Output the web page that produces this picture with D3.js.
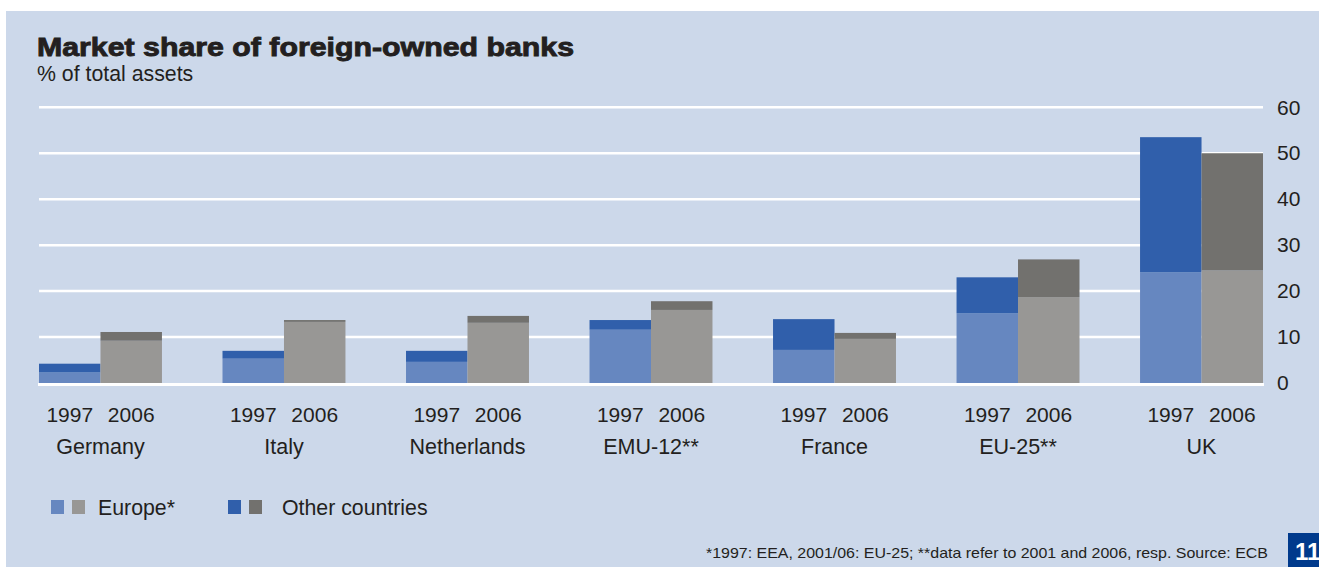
<!DOCTYPE html>
<html>
<head>
<meta charset="utf-8">
<script src="https://cdn.jsdelivr.net/npm/d3@7"></script>
<style>
  html, body { margin: 0; padding: 0; background: #ffffff; }
  svg { display: block; }
  text { font-family: "Liberation Sans", Arial, Helvetica, sans-serif; fill: #231f20; }
</style>
</head>
<body>
<svg id="chart" width="1319" height="567"></svg>
<script>
// Market share of foreign-owned banks, % of total assets
const countries = ["Germany", "Italy", "Netherlands", "EMU-12**", "France", "EU-25**", "UK"];
const years = ["1997", "2006"];
const europe1997 = [2.3, 5.3, 4.6, 11.6, 7.2, 15.2, 24.1];
const other1997  = [1.9, 1.7, 2.4, 2.1, 6.7, 7.8, 29.4];
const europe2006 = [9.2, 13.3, 13.1, 15.9, 9.6, 18.7, 24.5];
const other2006  = [1.9, 0.4, 1.5, 1.9, 1.3, 8.2, 25.5];
const yTicks = [0, 10, 20, 30, 40, 50, 60];
const legendLabels = ["Europe*", "Other countries"];

const colors = {
  "1997": { europe: "#6687c0", other: "#305fab" },
  "2006": { europe: "#989795", other: "#72716e" }
};

const svg = d3.select("#chart");

// background panel
svg.append("rect")
  .attr("x", 6).attr("y", 11)
  .attr("width", 1313).attr("height", 556)
  .attr("fill", "#ccd8ea");

// title block
svg.append("text")
  .attr("x", 37).attr("y", 56)
  .attr("font-size", 26).attr("font-weight", "bold")
  .attr("stroke", "#231f20").attr("stroke-width", 0.9)
  .attr("textLength", 537).attr("lengthAdjust", "spacingAndGlyphs")
  .text("Market share of foreign-owned banks");

svg.append("text")
  .attr("x", 37).attr("y", 81)
  .attr("font-size", 21.3)
  .text("% of total assets");

// scales
const x0 = d3.scaleBand().domain(countries).range([39, 1263]).paddingInner(0.33).paddingOuter(0);
const x1 = d3.scaleBand().domain(years).range([0, x0.bandwidth()]).padding(0);
const y = d3.scaleLinear().domain([0, 60]).range([383, 107.3]);

// gridlines
svg.append("g").selectAll("line")
  .data(yTicks.filter(d => d > 0))
  .join("line")
  .attr("x1", 39).attr("x2", 1263)
  .attr("y1", d => y(d)).attr("y2", d => y(d))
  .attr("stroke", "#ffffff").attr("stroke-width", 2.5);

// right-hand value axis
const yAxis = d3.axisRight(y).tickValues(yTicks).tickSize(0).tickPadding(0);
const gy = svg.append("g").attr("transform", "translate(1277,0)").call(yAxis);
gy.select(".domain").remove();
gy.selectAll("text")
  .attr("font-size", 21)
  .attr("font-family", "Liberation Sans, Arial, sans-serif")
  .attr("fill", "#231f20");

// stacked bars per year
const seriesByYear = {
  "1997": { europe: europe1997, other: other1997 },
  "2006": { europe: europe2006, other: other2006 }
};
const stack = d3.stack().keys(["europe", "other"]);

years.forEach(yr => {
  const rows = countries.map((c, i) => ({
    country: c,
    europe: seriesByYear[yr].europe[i],
    other: seriesByYear[yr].other[i]
  }));
  const layers = stack(rows);
  svg.append("g").selectAll("g")
    .data(layers)
    .join("g")
    .attr("fill", d => colors[yr][d.key])
    .selectAll("rect")
    .data(d => d)
    .join("rect")
    .attr("x", d => x0(d.data.country) + x1(yr))
    .attr("width", x1.bandwidth())
    .attr("y", d => y(d[1]))
    .attr("height", d => y(d[0]) - y(d[1]));
});

// zero line
svg.append("line")
  .attr("x1", 38).attr("x2", 1264)
  .attr("y1", 384.5).attr("y2", 384.5)
  .attr("stroke", "#ffffff").attr("stroke-width", 3);

// category labels
const labels = svg.append("g");
countries.forEach(c => {
  years.forEach(yr => {
    labels.append("text")
      .attr("x", x0(c) + x1(yr) + x1.bandwidth() / 2)
      .attr("y", 422)
      .attr("text-anchor", "middle")
      .attr("font-size", 21)
      .text(yr);
  });
  labels.append("text")
    .attr("x", x0(c) + x0.bandwidth() / 2)
    .attr("y", 454)
    .attr("text-anchor", "middle")
    .attr("font-size", 21.5)
    .text(c);
});

// legend
const legendItems = [
  { label: legendLabels[0], sw: [colors["1997"].europe, colors["2006"].europe], x: 51, tx: 98 },
  { label: legendLabels[1], sw: [colors["1997"].other, colors["2006"].other], x: 228, tx: 282 }
];
const legend = svg.append("g");
legendItems.forEach(item => {
  item.sw.forEach((col, k) => {
    legend.append("rect")
      .attr("x", item.x + k * 21).attr("y", 500)
      .attr("width", 13).attr("height", 14)
      .attr("fill", col);
  });
  legend.append("text")
    .attr("x", item.tx).attr("y", 515)
    .attr("font-size", 21.3)
    .text(item.label);
});

// footnote
svg.append("text")
  .attr("x", 1268).attr("y", 558)
  .attr("text-anchor", "end")
  .attr("font-size", 15)
  .attr("font-family", "Liberation Sans Narrow, Liberation Sans, Arial, sans-serif")
  .attr("textLength", 562).attr("lengthAdjust", "spacingAndGlyphs")
  .text("*1997: EEA, 2001/06: EU-25; **data refer to 2001 and 2006, resp. Source: ECB");

// page number tab
svg.append("rect")
  .attr("x", 1288).attr("y", 533)
  .attr("width", 31).attr("height", 34)
  .attr("fill", "#003a8c");
svg.append("text")
  .attr("x", 1295).attr("y", 560)
  .attr("font-size", 24).attr("font-weight", "bold")
  .style("fill", "#ffffff")
  .text("11");
</script>
</body>
</html>
